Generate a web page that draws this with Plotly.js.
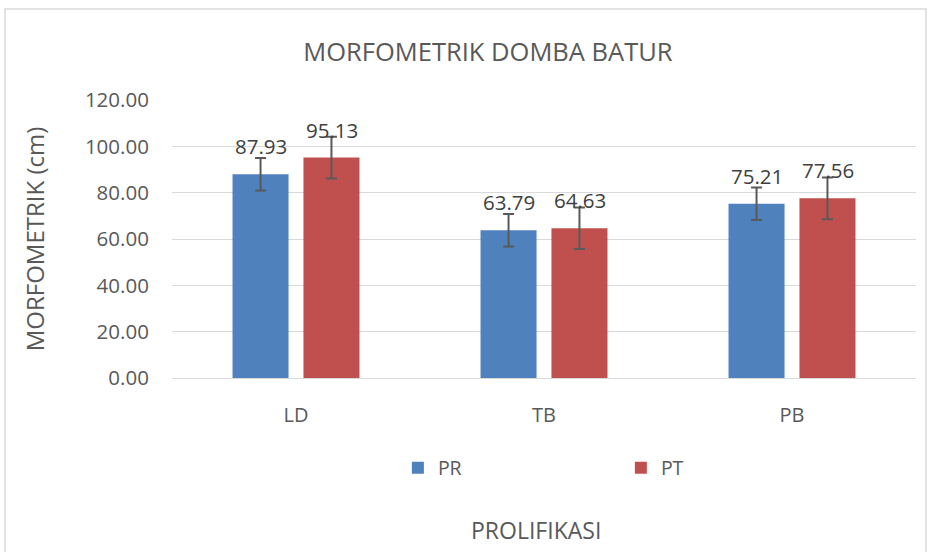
<!DOCTYPE html>
<html>
<head>
<meta charset="utf-8">
<script src="https://cdn.plot.ly/plotly-3.0.1.min.js"></script>
<style>html,body{margin:0;padding:0;background:#fff;}#chart{width:933px;height:552px;}</style>
</head>
<body>
<div id="chart"></div>
<script>
const categories = ["LD", "TB", "PB"];
const seriesNames = ["PR", "PT"];
const prValues = [87.93, 63.79, 75.21];
const ptValues = [95.13, 64.63, 77.56];
const prErrors = [7.0, 7.0, 7.0];
const ptErrors = [9.0, 9.0, 9.0];
const yTickVals = [0, 20, 40, 60, 80, 100, 120];
const yTickText = ["0.00", "20.00", "40.00", "60.00", "80.00", "100.00", "120.00"];
const xAxisTitle = "PROLIFIKASI";

const FONT = "Open Sans, Lato, sans-serif";
const GREY = "#595959";
const colors = ["#4f81bd", "#c0504d"];
const values = [prValues, ptValues];
const errors = [prErrors, ptErrors];

const traces = seriesNames.map((n, i) => ({
  type: "bar",
  name: n,
  x: categories,
  y: values[i],
  marker: {color: colors[i]},
  error_y: {type: "data", array: errors[i], visible: true, color: "#595959", thickness: 2, width: 5.5},
  hoverinfo: "y"
}));

const annotations = [];
seriesNames.forEach((n, i) => {
  categories.forEach((c, j) => {
    annotations.push({
      x: c, y: values[i][j], xref: "x", yref: "y",
      text: values[i][j].toFixed(2),
      showarrow: false, yanchor: "bottom",
      xshift: (i === 0 ? -35.5 : 35.5), yshift: 12,
      font: {family: FONT, size: 20.5, color: "#404040"}
    });
  });
});
// x-axis title (placed as paper annotation to match the reference offset)
annotations.push({
  text: xAxisTitle, xref: "paper", yref: "paper",
  x: (536 - 172) / 744, y: (378 - 530) / 278, xanchor: "center", yanchor: "middle",
  showarrow: false, font: {family: FONT, size: 23, color: GREY}
});

const layout = {
  width: 933, height: 552,
  margin: {l: 172, r: 17, t: 100, b: 174},
  paper_bgcolor: "#fff", plot_bgcolor: "#fff",
  barmode: "group", bargap: 0.428, bargroupgap: 0.21,
  title: {text: "MORFOMETRIK DOMBA BATUR", font: {family: FONT, size: 25.5, color: GREY}, x: 0.523, xanchor: "center", y: 0.905, yanchor: "middle"},
  xaxis: {
    tickfont: {family: FONT, size: 20, color: GREY},
    ticks: "outside", ticklen: 19, tickcolor: "rgba(0,0,0,0)",
    showline: false, showgrid: false, zeroline: false, automargin: false
  },
  yaxis: {
    range: [0, 120], tickvals: yTickVals, ticktext: yTickText,
    tickfont: {family: FONT, size: 20.5, color: GREY},
    ticks: "outside", ticklen: 18, tickcolor: "rgba(0,0,0,0)",
    showgrid: true, gridcolor: "#d9d9d9", gridwidth: 1,
    zeroline: true, zerolinecolor: "#d9d9d9", zerolinewidth: 1,
    showline: false, automargin: false,
    title: {text: "MORFOMETRIK (cm)", font: {family: FONT, size: 24, color: GREY}, standoff: 33}
  },
  legend: {orientation: "h", x: 0.3036, xanchor: "left", y: -0.324, yanchor: "middle",
    font: {family: FONT, size: 19.5, color: GREY}, entrywidth: 178, entrywidthmode: "pixels",
    traceorder: "normal"},
  annotations: annotations,
  shapes: [{type: "rect", xref: "paper", yref: "paper",
    x0: (5 - 172) / 744, x1: (926 - 172) / 744, y0: (378 - 560) / 278, y1: (378 - 9) / 278,
    line: {color: "#d9d9d9", width: 1.5}, fillcolor: "rgba(0,0,0,0)", layer: "below"}]
};

Plotly.newPlot("chart", traces, layout, {displayModeBar: false, staticPlot: true});
</script>
</body>
</html>
